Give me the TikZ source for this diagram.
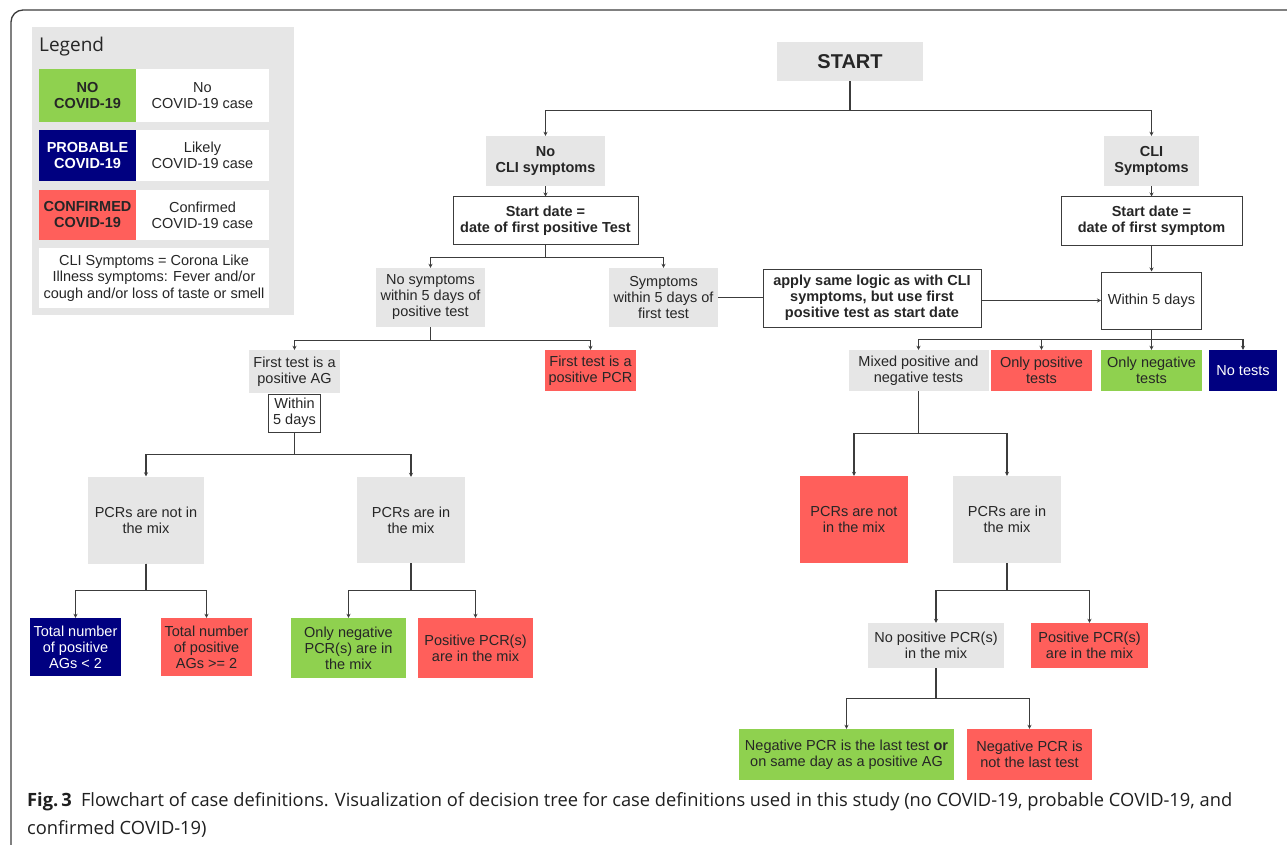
\documentclass[tikz,border=0pt]{standalone}
\usepackage{fontspec}
\setmainfont{Liberation Sans}
\newfontfamily\legendfont{Open Sans}
\newfontfamily\captionfont{Open Sans}
\usepackage{xcolor}
\definecolor{CDgrey}{HTML}{E6E6E6}
\definecolor{CDred}{HTML}{FF5F5B}
\definecolor{CDgreen}{HTML}{8FD14F}
\definecolor{CDnavy}{HTML}{000080}
\definecolor{CDtext}{HTML}{262626}
\definecolor{CDline}{HTML}{3C3C3C}
\usetikzlibrary{arrows.meta}
\newcommand{\boxfont}{\fontsize{14.5}{16}\selectfont}

\begin{document}
\begin{tikzpicture}[x=1pt, y=-1pt]
  \tikzset{
  box/.style={inner sep=0pt, align=center, text=CDtext, font=\boxfont},
  greybox/.style={box, fill=CDgrey},
  redbox/.style={box, fill=CDred},
  greenbox/.style={box, fill=CDgreen},
  navybox/.style={box, fill=CDnavy, text=white},
  framebox/.style={box, draw=CDline, line width=1pt, fill=white},
  boldtxt/.style={font=\boxfont\bfseries},
  sz/.style 2 args={minimum width=#1pt, minimum height=#2pt},
  link/.style={draw=CDline, line width=1.2pt},
  arr/.style={link, -{Stealth[length=4pt, width=4pt]}},
}
\clip (0,0) rectangle (1287,845);
\fill[white] (0,0) rectangle (1287,845);

% ── Outer frame ─────────────────────────────────────────────
\draw[CDline, line width=1.3pt, rounded corners=12pt] (11,10) rectangle (1302,858);

% ── Legend ──────────────────────────────────────────────────
\fill[CDgrey] (32,27) rectangle (294,315);
\node[anchor=west, inner sep=0pt, text=CDtext, font=\legendfont\fontsize{19}{22}\selectfont]
  (legtitle) at (39,47) {Legend};

\node[greenbox, boldtxt, sz={97}{53}] (lgno) at (87.5,95.5) {NO\\COVID-19};
\node[box, fill=white, sz={133}{53}] (lgnotxt) at (202.5,95.5) {No\\COVID-19 case};

\node[navybox, boldtxt, sz={97}{51}] (lgprob) at (87.5,155.5) {PROBABLE\\COVID-19};
\node[box, fill=white, sz={133}{51}] (lgprobtxt) at (202.5,155.5) {Likely\\COVID-19 case};

\node[redbox, boldtxt, sz={97}{50}] (lgconf) at (87.5,215) {CONFIRMED\\COVID-19};
\node[box, fill=white, sz={133}{50}] (lgconftxt) at (202.5,215) {Confirmed\\COVID-19 case};

\node[box, fill=white, sz={230}{60}, font=\fontsize{14.5}{16.5}\selectfont] (lgcli) at (154,278)
  {CLI Symptoms = Corona Like\\Illness symptoms: Fever and/or\\cough and/or loss of taste or smell};

% ── Top of the tree ─────────────────────────────────────────
\node[greybox, sz={146}{39}, font=\fontsize{20}{24}\selectfont\bfseries] (start) at (850,61.5) {START};

\node[greybox, boldtxt, sz={119}{50}] (nocli) at (545.5,161) {No\\CLI symptoms};
\node[greybox, boldtxt, sz={95}{50}] (cli) at (1151.5,161) {CLI\\Symptoms};

\draw[arr] (start.south) -- ++(0,29) -| (nocli.north);
\draw[arr] (start.south) -- ++(0,29) -| (cli.north);

% ── No CLI symptoms branch ──────────────────────────────────
\node[framebox, boldtxt, sz={185}{47}] (dateL) at (545.5,220.5) {Start date =\\date of first positive Test};
\draw[arr] (nocli.south) -- (dateL.north);

\node[greybox, sz={109}{59}] (nosym) at (430.5,297.5) {No symptoms\\within 5 days of\\positive test};
\node[greybox, sz={109}{59}] (sym5) at (663.5,297.5) {Symptoms\\within 5 days of\\first test};
\draw[arr] (dateL.south) -- ++(0,13) -| (nosym.north);
\draw[arr] (dateL.south) -- ++(0,13) -| (sym5.north);

\node[framebox, boldtxt, sz={218}{58}] (apply) at (872,298)
  {apply same logic as with CLI\\symptoms, but use first\\positive test as start date};
\draw[link] (sym5.east) -- (sym5.east -| apply.west);

\node[greybox, sz={91}{43}] (firstag) at (294.5,371.5) {First test is a\\positive AG};
\node[redbox, sz={91}{41}] (firstpcr) at (590.5,370.5) {First test is a\\positive PCR};
\draw[arr] (nosym.south) -- ++(0,13) -| (firstag.north);
\draw[arr] (nosym.south) -- ++(0,13) -| (firstpcr.north);

\node[framebox, sz={52}{38}, anchor=north] (win5s) at (294.5,393.5) {Within\\5 days};

\node[greybox, sz={116}{87}] (pcrnotL) at (146,520) {PCRs are not in\\the mix};
\node[greybox, sz={108}{86}] (pcrinL) at (411,520) {PCRs are in\\the mix};
\draw[arr] (win5s.south) -- ++(0,22) -| (pcrnotL.north);
\draw[arr] (win5s.south) -- ++(0,22) -| (pcrinL.north);

\node[navybox, sz={91}{58}] (agless) at (75.5,647) {Total number\\of positive\\AGs < 2};
\node[redbox, sz={91}{58}] (agmore) at (206.5,647) {Total number\\of positive\\AGs >= 2};
\draw[arr] (pcrnotL.south) -- ++(0,27) -| (agless.north);
\draw[arr] (pcrnotL.south) -- ++(0,27) -| (agmore.north);

\node[greenbox, sz={115}{60}] (onlynegpcr) at (348.5,648) {Only negative\\PCR(s) are in\\the mix};
\node[redbox, sz={115}{60}] (pospcrL) at (475.5,648) {Positive PCR(s)\\are in the mix};
\draw[arr] (pcrinL.south) -- ++(0,27) -| (onlynegpcr.north);
\draw[arr] (pcrinL.south) -- ++(0,27) -| (pospcrL.north);

% ── CLI symptoms branch ─────────────────────────────────────
\node[framebox, boldtxt, sz={181}{48}] (dateR) at (1151.5,221) {Start date =\\date of first symptom};
\draw[arr] (cli.south) -- (cli.south |- dateR.north);

\node[framebox, sz={100}{57}] (win5) at (1151.5,300.5) {Within 5 days};
\draw[arr] (dateR.south) -- (dateR.south |- win5.north);
\draw[arr] (apply.east |- win5.west) -- (win5.west);

\node[greybox, sz={140}{41}] (mixed) at (918.5,370.5) {Mixed positive and\\negative tests};
\node[redbox, sz={101}{41}] (onlypos) at (1041.5,370.5) {Only positive\\tests};
\node[greenbox, sz={101}{41}] (onlyneg) at (1151.5,370.5) {Only negative\\tests};
\node[navybox, sz={68}{41}] (notests) at (1243,370.5) {No tests};
\foreach \kid in {mixed, onlypos, onlyneg, notests}
  \draw[arr] (win5.south) -- ++(0,10) -| (\kid.north);

\node[redbox, sz={108}{87}] (pcrnotR) at (854,519.5) {PCRs are not\\in the mix};
\node[greybox, sz={108}{87}] (pcrinR) at (1007,519.5) {PCRs are in\\the mix};
\draw[arr] (mixed.south) -- ++(0,42) -| (pcrnotR.north);
\draw[arr] (mixed.south) -- ++(0,42) -| (pcrinR.north);

\node[greybox, sz={136}{45}] (nopospcr) at (936,645.5) {No positive PCR(s)\\in the mix};
\node[redbox, sz={117}{45}] (pospcrR) at (1089.5,645.5) {Positive PCR(s)\\are in the mix};
\draw[arr] (pcrinR.south) -- ++(0,27) -| (nopospcr.north);
\draw[arr] (pcrinR.south) -- ++(0,27) -| (pospcrR.north);

\node[greenbox, sz={215}{51}] (neglast) at (846.5,754.5)
  {Negative PCR is the last test \textbf{or}\\on same day as a positive AG};
\node[redbox, sz={125}{51}] (negnotlast) at (1029.5,754.5) {Negative PCR is\\not the last test};
\draw[arr] (nopospcr.south) -- ++(0,30) -| (neglast.north);
\draw[arr] (nopospcr.south) -- ++(0,30) -| (negnotlast.north);

% ── Caption ─────────────────────────────────────────────────
\node[anchor=base west, align=left, inner sep=0pt, text=black!88,
      font=\captionfont\fontsize{18.3}{28}\selectfont] (caption) at (27,834)
  {\textbf{Fig.\,3}\enspace Flowchart of case definitions. Visualization of decision tree for case definitions used in this study (no COVID-19, probable COVID-19, and\\
   confirmed COVID-19)};
\end{tikzpicture}
\end{document}
